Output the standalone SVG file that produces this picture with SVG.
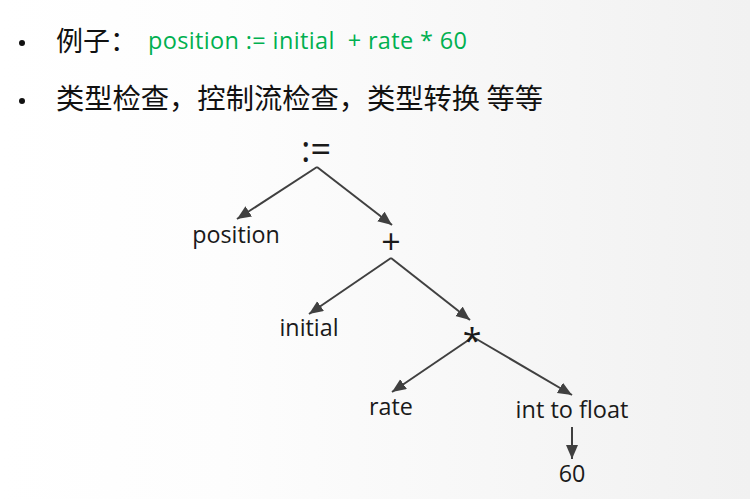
<svg xmlns="http://www.w3.org/2000/svg" width="750" height="499" viewBox="0 0 750 499">
<defs>
<linearGradient id="bg" x1="0" y1="0" x2="1" y2="0">
<stop offset="0" stop-color="#ffffff"/>
<stop offset="0.3" stop-color="#fdfdfd"/>
<stop offset="1" stop-color="#f1f1f1"/>
</linearGradient>
<marker id="arr" markerUnits="userSpaceOnUse" markerWidth="16" markerHeight="14" refX="14" refY="6" orient="auto">
<path d="M0,0 L14,6 L0,12 Z" fill="#404040"/>
</marker>
<style>
.t{font-family:"Open Sans","Noto Sans",sans-serif;fill:#1a1a1a}
.c{font-family:"Noto Sans CJK SC","Noto Sans",sans-serif;fill:#111}
.g{font-family:"Open Sans","Noto Sans",sans-serif;fill:#00b050;white-space:pre}
.e{stroke:#404040;stroke-width:2;fill:none;marker-end:url(#arr)}
</style>
</defs>
<rect width="750" height="499" fill="url(#bg)"/>
<g id="bullets">
<circle cx="22" cy="43" r="3" fill="#111"/>
<circle cx="22" cy="101" r="3" fill="#111"/>
<text class="c" x="56" y="51" font-size="27">例子：</text>
<text class="g" x="148" y="49" font-size="23.5" xml:space="preserve" textLength="319" lengthAdjust="spacing">position := initial  + rate * 60</text>
<text class="c" x="56" y="109" font-size="28.3" textLength="487" lengthAdjust="spacing">类型检查，控制流检查，类型转换 等等</text>
</g>
<g id="connectors">
<path class="e" d="M317,167 L237,219"/>
<path class="e" d="M317,167 L392,225"/>
<path class="e" d="M391,258 L309,314"/>
<path class="e" d="M391,258 L470,320"/>
<path class="e" d="M473,337 L392,392"/>
<path class="e" d="M473,337 L572,395"/>
<path class="e" d="M572,427 L572,459"/>
</g>
<g id="n-assign"><text class="t" x="316" y="162" font-size="36" text-anchor="middle">:=</text></g>
<g id="n-position"><text class="t" x="236" y="243" font-size="23.3" text-anchor="middle">position</text></g>
<g id="n-plus"><text class="t" x="391" y="254" font-size="34" text-anchor="middle">+</text></g>
<g id="n-initial"><text class="t" x="309" y="336" font-size="23.3" text-anchor="middle">initial</text></g>
<g id="n-times"><text class="t" x="472" y="353" font-size="34" text-anchor="middle">*</text></g>
<g id="n-rate"><text class="t" x="391" y="415" font-size="23.3" text-anchor="middle">rate</text></g>
<g id="n-inttofloat"><text class="t" x="572" y="418" font-size="23.5" text-anchor="middle">int to float</text></g>
<g id="n-60"><text class="t" x="572" y="482" font-size="23.3" text-anchor="middle">60</text></g>
</svg>
